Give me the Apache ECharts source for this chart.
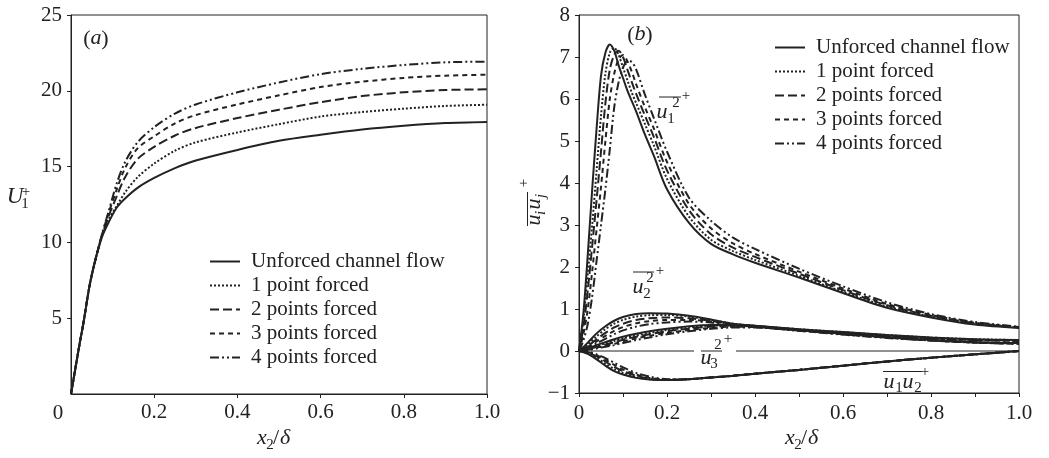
<!DOCTYPE html>
<html>
<head>
<meta charset="utf-8">
<script src="https://cdn.jsdelivr.net/npm/echarts/dist/echarts.min.js"></script>
<style>html,body{margin:0;padding:0;background:#fff}#main{width:1049px;height:458px}</style>
</head>
<body>
<div id="main"></div>
<script>
var FONT = '"Liberation Serif", "Times New Roman", serif';
var INK = '#222';

var caseNames = ['Unforced channel flow', '1 point forced', '2 points forced', '3 points forced', '4 points forced'];
var caseDash = ['solid', [2, 2], [9, 4], [5, 4], [9, 3, 2, 3, 2, 3]];

// (a) mean velocity U1+
var xA = [0, 0.01, 0.02, 0.03, 0.045, 0.06, 0.075, 0.09, 0.11, 0.13, 0.16, 0.2, 0.25, 0.3, 0.4, 0.5, 0.6, 0.7, 0.8, 0.9, 1.0];
var uPlus0 = [0, 1.6, 3.2, 4.7, 7.2, 9.0, 10.4, 11.3, 12.3, 12.9, 13.6, 14.25, 14.9, 15.4, 16.1, 16.7, 17.1, 17.45, 17.7, 17.88, 17.95];
var uPlus1 = [0, 1.6, 3.2, 4.7, 7.2, 9.0, 10.45, 11.5, 12.4, 13.3, 14.3, 15.2, 16.05, 16.6, 17.25, 17.8, 18.3, 18.6, 18.82, 19.0, 19.08];
var uPlus2 = [0, 1.6, 3.2, 4.7, 7.2, 9.0, 10.5, 11.7, 13.05, 14.3, 15.5, 16.3, 17.05, 17.55, 18.2, 18.75, 19.25, 19.65, 19.9, 20.05, 20.1];
var uPlus3 = [0, 1.6, 3.2, 4.7, 7.2, 9.0, 10.55, 11.9, 13.5, 14.9, 16.2, 17.0, 17.85, 18.4, 19.1, 19.7, 20.25, 20.6, 20.85, 21.0, 21.06];
var uPlus4 = [0, 1.6, 3.2, 4.7, 7.2, 9.0, 10.6, 12.0, 13.9, 15.3, 16.6, 17.6, 18.5, 19.1, 19.9, 20.55, 21.1, 21.45, 21.7, 21.88, 21.92];

// (b) Reynolds stresses
var xB1 = [0, 0.01, 0.02, 0.03, 0.04, 0.05, 0.06, 0.07, 0.08, 0.09, 0.1, 0.11, 0.12, 0.13, 0.15, 0.17, 0.2, 0.25, 0.3, 0.35, 0.4, 0.5, 0.6, 0.7, 0.8, 0.9, 1.0];
var uu11_0 = [0, 0.9, 2.3, 3.85, 5.3, 6.55, 7.1, 7.3, 7.15, 6.8, 6.5, 6.2, 5.95, 5.7, 5.15, 4.65, 3.85, 3.05, 2.55, 2.3, 2.1, 1.75, 1.38, 1.03, 0.8, 0.63, 0.55];
var uu11_1 = [0, 0.75, 1.85, 3.0, 4.3, 5.6, 6.6, 7.1, 7.22, 7.05, 6.75, 6.45, 6.15, 5.9, 5.4, 4.9, 4.1, 3.2, 2.65, 2.38, 2.17, 1.79, 1.41, 1.06, 0.82, 0.65, 0.56];
var uu11_2 = [0, 0.55, 1.45, 2.5, 3.6, 4.75, 5.9, 6.7, 7.05, 7.15, 7.0, 6.7, 6.4, 6.12, 5.6, 5.1, 4.3, 3.35, 2.78, 2.46, 2.24, 1.84, 1.45, 1.09, 0.84, 0.66, 0.56];
var uu11_3 = [0, 0.4, 1.0, 1.9, 2.9, 3.9, 5.0, 6.0, 6.6, 6.95, 7.05, 6.9, 6.65, 6.35, 5.8, 5.3, 4.5, 3.5, 2.92, 2.56, 2.31, 1.89, 1.49, 1.12, 0.86, 0.67, 0.57];
var uu11_4 = [0, 0.25, 0.65, 1.3, 2.15, 3.0, 3.85, 4.8, 5.8, 6.4, 6.75, 6.9, 6.88, 6.7, 6.1, 5.55, 4.75, 3.65, 3.1, 2.7, 2.43, 1.96, 1.54, 1.16, 0.88, 0.69, 0.58];

var xB2 = [0, 0.02, 0.04, 0.06, 0.08, 0.1, 0.13, 0.16, 0.2, 0.25, 0.3, 0.35, 0.4, 0.5, 0.6, 0.7, 0.8, 0.9, 1.0];
var uu22_0 = [0, 0.2, 0.42, 0.59, 0.72, 0.81, 0.88, 0.9, 0.89, 0.84, 0.75, 0.65, 0.6, 0.52, 0.45, 0.38, 0.32, 0.28, 0.26];
var uu22_1 = [0, 0.15, 0.35, 0.52, 0.65, 0.74, 0.82, 0.85, 0.86, 0.82, 0.74, 0.65, 0.6, 0.52, 0.45, 0.38, 0.32, 0.28, 0.26];
var uu22_2 = [0, 0.12, 0.28, 0.43, 0.56, 0.65, 0.74, 0.78, 0.8, 0.78, 0.72, 0.64, 0.59, 0.51, 0.44, 0.37, 0.31, 0.27, 0.25];
var uu22_3 = [0, 0.1, 0.23, 0.36, 0.48, 0.57, 0.66, 0.71, 0.74, 0.74, 0.7, 0.63, 0.58, 0.5, 0.43, 0.36, 0.3, 0.26, 0.24];
var uu22_4 = [0, 0.08, 0.18, 0.29, 0.4, 0.49, 0.58, 0.64, 0.68, 0.7, 0.68, 0.62, 0.57, 0.49, 0.42, 0.35, 0.3, 0.26, 0.24];

var uu33_0 = [0, 0.07, 0.14, 0.21, 0.28, 0.34, 0.41, 0.47, 0.53, 0.59, 0.62, 0.62, 0.6, 0.5, 0.41, 0.33, 0.26, 0.21, 0.19];
var uu33_1 = [0, 0.05, 0.12, 0.18, 0.24, 0.3, 0.37, 0.43, 0.5, 0.56, 0.6, 0.61, 0.59, 0.5, 0.41, 0.33, 0.26, 0.21, 0.18];
var uu33_2 = [0, 0.04, 0.1, 0.15, 0.21, 0.27, 0.34, 0.4, 0.47, 0.53, 0.58, 0.6, 0.58, 0.49, 0.4, 0.32, 0.25, 0.2, 0.18];
var uu33_3 = [0, 0.03, 0.08, 0.12, 0.17, 0.23, 0.3, 0.36, 0.43, 0.5, 0.55, 0.58, 0.57, 0.49, 0.4, 0.32, 0.25, 0.2, 0.17];
var uu33_4 = [0, 0.02, 0.06, 0.1, 0.14, 0.19, 0.26, 0.32, 0.4, 0.47, 0.53, 0.56, 0.56, 0.48, 0.39, 0.31, 0.25, 0.2, 0.17];

var uu12_0 = [0, -0.07, -0.2, -0.35, -0.48, -0.56, -0.64, -0.68, -0.69, -0.67, -0.63, -0.59, -0.54, -0.45, -0.35, -0.25, -0.16, -0.08, 0];
var uu12_1 = [0, -0.05, -0.16, -0.3, -0.43, -0.52, -0.62, -0.67, -0.69, -0.67, -0.63, -0.59, -0.54, -0.45, -0.35, -0.25, -0.16, -0.08, 0];
var uu12_2 = [0, -0.04, -0.13, -0.25, -0.38, -0.48, -0.59, -0.66, -0.69, -0.67, -0.63, -0.59, -0.54, -0.45, -0.35, -0.25, -0.16, -0.08, 0];
var uu12_3 = [0, -0.03, -0.1, -0.21, -0.33, -0.44, -0.56, -0.64, -0.68, -0.67, -0.63, -0.59, -0.54, -0.45, -0.35, -0.25, -0.16, -0.08, 0];
var uu12_4 = [0, -0.02, -0.08, -0.17, -0.28, -0.39, -0.52, -0.61, -0.67, -0.67, -0.63, -0.59, -0.54, -0.45, -0.35, -0.25, -0.16, -0.08, 0];

var zeroLine = [[0, 0], [1, 0]];

var uPlusAll = [uPlus0, uPlus1, uPlus2, uPlus3, uPlus4];
var uu11All = [uu11_0, uu11_1, uu11_2, uu11_3, uu11_4];
var uu22All = [uu22_0, uu22_1, uu22_2, uu22_3, uu22_4];
var uu33All = [uu33_0, uu33_1, uu33_2, uu33_3, uu33_4];
var uu12All = [uu12_0, uu12_1, uu12_2, uu12_3, uu12_4];

function lineSeries(k, xs, ys, gi) {
  return {
    name: caseNames[k], type: 'line', xAxisIndex: gi, yAxisIndex: gi,
    data: xs.map(function (x, i) { return [x, ys[i]]; }),
    showSymbol: false, symbol: 'none', smooth: 0.3, silent: true,
    lineStyle: { color: INK, width: 2, type: caseDash[k] },
    itemStyle: { color: INK }, z: 3
  };
}

var series = [];
for (var k = 4; k >= 0; k--) {
  series.push(lineSeries(k, xA, uPlusAll[k], 0));
  series.push(lineSeries(k, xB1, uu11All[k], 1));
  series.push(lineSeries(k, xB2, uu22All[k], 1));
  series.push(lineSeries(k, xB2, uu33All[k], 1));
  series.push(lineSeries(k, xB2, uu12All[k], 1));
}
series.push({
  type: 'line', xAxisIndex: 1, yAxisIndex: 1, data: zeroLine, symbol: 'none', silent: true,
  lineStyle: { color: INK, width: 1 }, z: 2
});

// text helpers for annotations
function glyph(x, y, s, size, italic, rot) {
  return {
    type: 'text', x: x, y: y, rotation: rot || 0, z: 100, silent: true,
    style: {
      x: 0, y: 0, text: s, fill: INK,
      font: (italic ? 'italic ' : '') + size + 'px ' + FONT,
      align: 'center', verticalAlign: 'middle', textAlign: 'center', textVerticalAlign: 'middle'
    }
  };
}
function bar(x1, y1, x2, y2) {
  return { type: 'line', z: 100, silent: true, shape: { x1: x1, y1: y1, x2: x2, y2: y2 }, style: { stroke: INK, lineWidth: 1 } };
}
function xName(x0) {
  return [glyph(x0, 438, 'x', 22, true), glyph(x0 + 8, 445, '2', 15), glyph(x0 + 14, 438, '/', 22), glyph(x0 + 23, 438, '\u03b4', 22, true)];
}
function tag(x0, y0, letter) {
  return [glyph(x0, y0, '(', 22), glyph(x0 + 9, y0 - 1, letter, 22, true), glyph(x0 + 18, y0, ')', 22)];
}

var graphics = [];
// panel labels
graphics = graphics.concat(tag(87, 39, 'a'), tag(631, 35, 'b'));
// axis names
graphics.push(glyph(15, 197, 'U', 23, true), glyph(25, 204, '1', 15), glyph(26, 192, '+', 15));
graphics = graphics.concat(xName(262), xName(790));
// rotated y name of (b)
var R = Math.PI / 2;
graphics.push(glyph(534, 220, 'u', 22, true, R), glyph(541, 213, 'i', 15, true, R),
  glyph(534, 204, 'u', 22, true, R), glyph(541, 196, 'j', 15, true, R),
  glyph(524, 183, '+', 15, false, R), bar(527.5, 192, 527.5, 226));
// curve labels
graphics.push(glyph(662, 112, 'u', 22, true), glyph(671, 119, '1', 15), glyph(676, 103, '2', 15),
  glyph(686, 96, '+', 15), bar(659, 97, 681, 97));
graphics.push(glyph(638, 287, 'u', 22, true), glyph(647, 294, '2', 15), glyph(650, 278, '2', 15),
  glyph(660, 271, '+', 15), bar(633, 272, 654, 272));
graphics.push({ type: 'rect', z: 90, silent: true, shape: { x: 694, y: 348, width: 42, height: 6 }, style: { fill: '#fff' } });
graphics.push(glyph(706, 358, 'u', 22, true), glyph(714, 364, '3', 15), glyph(718, 345, '2', 15),
  glyph(728, 339, '+', 15), bar(701, 351, 722, 351));
graphics.push(glyph(889, 382, 'u', 22, true), glyph(899, 388, '1', 15), glyph(908, 382, 'u', 22, true),
  glyph(918, 388, '2', 15), glyph(925, 372, '+', 15), bar(883, 371.5, 922, 371.5));
// origin label of (a)
graphics.push(glyph(58, 413, '0', 21));

function axisCommon() {
  return {
    type: 'value',
    axisLine: { show: true, onZero: false, lineStyle: { color: INK, width: 1 } },
    axisTick: { show: true, inside: false, length: 4, lineStyle: { color: INK } },
    splitLine: { show: false }
  };
}
var axLabel = { fontFamily: FONT, fontSize: 21, color: INK };

var xa = Object.assign(axisCommon(), {
  gridIndex: 0, min: 0, max: 1, interval: 0.2,
  axisLabel: Object.assign({ margin: 8, showMinLabel: false, formatter: function (v) { return v.toFixed(1); } }, axLabel)
});
var xb = Object.assign(axisCommon(), {
  gridIndex: 1, min: 0, max: 1, interval: 0.2,
  minorTick: { show: true, splitNumber: 2, length: 4, lineStyle: { color: INK } },
  axisLabel: Object.assign({ margin: 10, formatter: function (v) { return v === 0 ? '0' : v.toFixed(1); } }, axLabel)
});
var ya = Object.assign(axisCommon(), {
  gridIndex: 0, min: 0, max: 25, interval: 5,
  axisLabel: Object.assign({ margin: 9, showMinLabel: false }, axLabel)
});
var yb = Object.assign(axisCommon(), {
  gridIndex: 1, min: -1, max: 8, interval: 1,
  axisLabel: Object.assign({ margin: 9, formatter: function (v) { return v < 0 ? '\u2212' + (-v) : String(v); } }, axLabel)
});

function legendAt(left, top) {
  return {
    left: left, top: top, orient: 'vertical', itemWidth: 30, itemHeight: 12, itemGap: 3,
    selectedMode: false, data: caseNames, padding: 0,
    itemStyle: { opacity: 0 },
    textStyle: { fontFamily: FONT, fontSize: 21, color: INK, padding: [0, 0, 0, 6] }
  };
}

var chart = echarts.init(document.getElementById('main'));
chart.setOption({
  animation: false,
  backgroundColor: '#fff',
  grid: [
    { left: 71, top: 15, width: 416, height: 379, show: true, borderColor: INK, borderWidth: 1 },
    { left: 579, top: 15, width: 440, height: 378, show: true, borderColor: INK, borderWidth: 1 }
  ],
  xAxis: [xa, xb],
  yAxis: [ya, yb],
  legend: [legendAt(209, 251), legendAt(774, 37)],
  series: series,
  graphic: { elements: graphics }
});
</script>
</body>
</html>
